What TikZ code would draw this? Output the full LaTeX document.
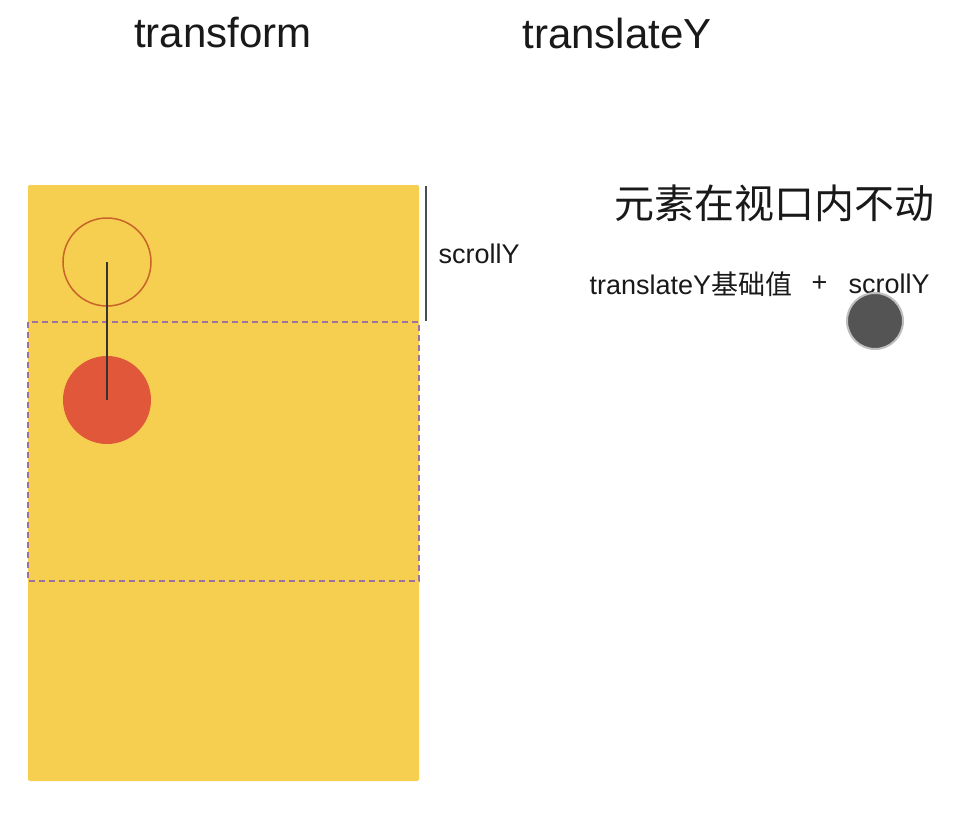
\documentclass[tikz,border=0pt]{standalone}
\usepackage{fontspec}
\setmainfont{Liberation Sans}
\newfontfamily\cjk{Noto Sans CJK SC}
\usepackage{tikz}
\definecolor{paper}{HTML}{F6CE50}
\definecolor{viewport}{HTML}{9B72A0}
\definecolor{ballred}{HTML}{E0573A}
\definecolor{ringred}{HTML}{C8642A}
\tikzset{
  title/.style={font=\fontsize{42}{48}\selectfont, text=black!90},
  label/.style={font=\fontsize{27}{32}\selectfont, anchor=west, text=black!90},
}
\begin{document}
\begin{tikzpicture}[x=1pt,y=-1pt]
    \useasboundingbox[fill=white] (0,0) rectangle (980,816);
    % ---- titles ----
    \node[title] (ttrans) at (223,33) {transform};
    \node[title] (ttransy) at (617,33) {translateY};
    % ---- page : left panel ----
    \fill[paper,rounded corners=2] (28,185) rectangle (419,781);
    \draw[viewport,dashed,line width=1.2,dash pattern=on 6pt off 4pt] (28,322) rectangle (419,581);
    \node[draw=ringred,line width=1.5,circle,minimum size=88pt,inner sep=0] (before) at (107,262) {};
    \node[fill=ballred,circle,minimum size=88pt,inner sep=0] (after) at (107,400) {};
    \draw[black!80,line width=1.2] (before.center) -- (after.center);
    % ---- scroll distance ----
    \coordinate (stop) at (426,186);
    \coordinate (sbot) at (426,321);
    \draw[black!70,line width=1.2] (stop) -- (sbot);
    \node[label] (scroll) at (435,254) {scrollY};
    % ---- right panel ----
    \node[font=\cjk\fontsize{40}{46}\selectfont,text=black!90] (fixed) at (774,203) {元素在视口内不动};
    \node[label] (base) at (586,284) {translateY{\cjk 基础值}};
    \node[label] (plus) at (808,284) {+};
    \node[label] (scrolly) at (845,284) {scrollY};
    \node[circle,fill=black!67,draw=black!25,line width=2,minimum size=56pt,inner sep=0] (knob) at (875,321) {};
\end{tikzpicture}
\end{document}
